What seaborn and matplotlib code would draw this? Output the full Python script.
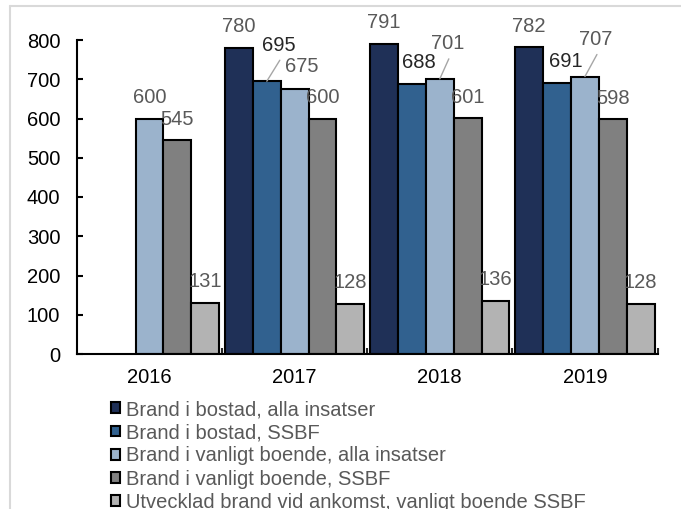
import pandas as pd
import seaborn as sns
import matplotlib.pyplot as plt
from matplotlib.patches import Patch
from matplotlib.lines import Line2D

# data
years = ["2016", "2017", "2018", "2019"]
series = [
    "Brand i bostad, alla insatser",
    "Brand i bostad, SSBF",
    "Brand i vanligt boende, alla insatser",
    "Brand i vanligt boende, SSBF",
    "Utvecklad brand vid ankomst, vanligt boende SSBF",
]
bostad_alla = [None, 780, 791, 782]
bostad_ssbf = [None, 695, 688, 691]
vanligt_alla = [600, 675, 701, 707]
vanligt_ssbf = [545, 600, 601, 598]
utvecklad = [131, 128, 136, 128]

colors = ["#1f3057", "#31618f", "#9bb3cc", "#808080", "#b3b3b3"]

rows = []
for name, vals in zip(series, [bostad_alla, bostad_ssbf, vanligt_alla, vanligt_ssbf, utvecklad]):
    for y, v in zip(years, vals):
        if v is not None:
            rows.append({"year": y, "series": name, "value": v})
df = pd.DataFrame(rows)

sns.set_style("white")
plt.rcParams["font.family"] = ["Liberation Sans", "DejaVu Sans"]
FS = 14.5
plt.rcParams["font.size"] = FS

fig = plt.figure(figsize=(6.81, 5.09), dpi=100)
ax = fig.add_axes([77 / 681, 1 - 354 / 509, (657.5 - 77) / 681, (354 - 40) / 509])

sns.barplot(data=df, x="year", y="value", hue="series", hue_order=series,
            order=years, palette=colors, saturation=1, width=0.96, gap=0,
            errorbar=None, edgecolor="black", linewidth=1.5, ax=ax, legend=False)

ax.set_xlim(-0.5, 3.5)
ax.set_ylim(0, 800)
ax.set_yticks(range(0, 801, 100))
ax.set_xlabel("")
ax.set_ylabel("")
for s in ["top", "right"]:
    ax.spines[s].set_visible(False)
for s in ["left", "bottom"]:
    ax.spines[s].set_linewidth(1.5)
    ax.spines[s].set_color("black")
ax.tick_params(axis="y", direction="in", length=4, width=1.5, pad=12,
               labelsize=FS, colors="black", left=True)
ax.tick_params(axis="x", length=0, pad=10, labelsize=FS, colors="black")
ax.set_xticks([0.5, 1.5, 2.5, 3.5], minor=True)
ax.tick_params(axis="x", which="minor", direction="in", length=4, width=1.5,
               bottom=True)

# label offsets in pixels (dx, dy) where labels were nudged to avoid overlap
nudges = {
    (1, 1): (12, 36), (2, 1): (7, 23),
    (1, 2): (7, 21), (2, 2): (8, 35),
    (1, 3): (9, 21), (2, 3): (11, 37),
}
leaders = {(1, 1), (2, 2), (2, 3)}
dark_labels = {1}

for si, cont in enumerate(ax.containers):
    for bar in cont:
        h = bar.get_height()
        cx = bar.get_x() + bar.get_width() / 2
        yi = int(round(cx))
        dx, dy = nudges.get((si, yi), (0, 21))
        ax.annotate(f"{h:.0f}", (cx, h), xytext=(dx, dy),
                    textcoords="offset pixels", ha="center", va="center",
                    fontsize=FS, color="#262626" if si in dark_labels else "#595959",
                    annotation_clip=False)
        if (si, yi) in leaders:
            ax.annotate("", (cx, h), xytext=(dx + 1, dy - 15),
                        textcoords="offset pixels",
                        arrowprops=dict(arrowstyle="-", color="#a6a6a6", lw=1,
                                        shrinkA=0, shrinkB=0),
                        annotation_clip=False)

handles = [Patch(facecolor=c, edgecolor="black", linewidth=1.5) for c in colors]
leg = fig.legend(handles, series, loc="upper left",
                 bbox_to_anchor=(111 / 681, 1 - 400 / 509), frameon=False,
                 borderpad=0, borderaxespad=0, handlelength=0.45, handleheight=0.45,
                 handletextpad=0.3, labelspacing=0.21, fontsize=FS)
for t in leg.get_texts():
    t.set_color("#595959")

# light frame lines at the left and top edge
fig.add_artist(Line2D([10 / 681, 10 / 681], [0, 1 - 6 / 509], color="#d9d9d9",
                      lw=1.5, transform=fig.transFigure))
fig.add_artist(Line2D([10 / 681, 1], [1 - 6 / 509, 1 - 6 / 509], color="#d9d9d9",
                      lw=1.5, transform=fig.transFigure))

fig.savefig("out.png", dpi=100)
